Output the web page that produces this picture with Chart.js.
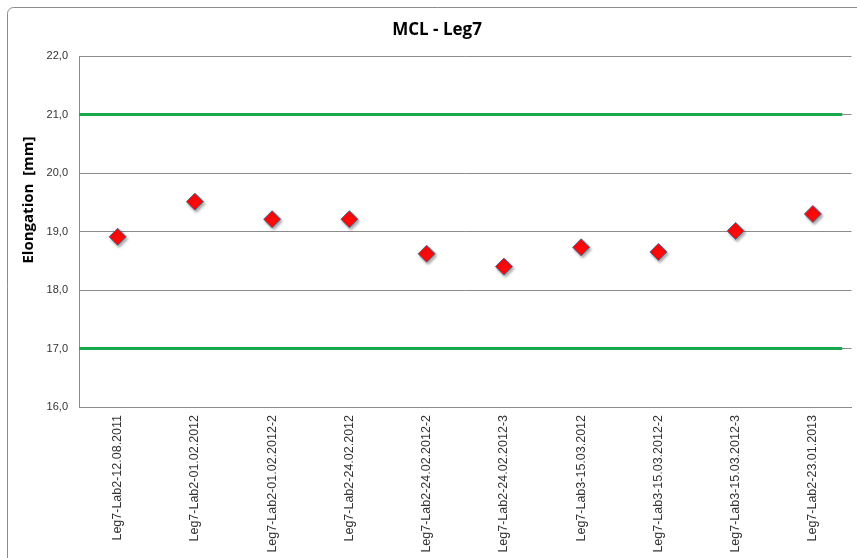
<!DOCTYPE html>
<html>
<head>
<meta charset="utf-8">
<script src="https://cdn.jsdelivr.net/npm/chart.js@4"></script>
<style>
  html, body { margin: 0; padding: 0; background: #fff; overflow: hidden; }
  #wrap { width: 857px; height: 558px; position: relative; overflow: hidden; }
</style>
</head>
<body>
<div id="wrap"><canvas id="chart" width="861" height="558"></canvas></div>
<script>
const samples = [
  'Leg7-Lab2-12.08.2011',
  'Leg7-Lab2-01.02.2012',
  'Leg7-Lab2-01.02.2012-2',
  'Leg7-Lab2-24.02.2012',
  'Leg7-Lab2-24.02.2012-2',
  'Leg7-Lab2-24.02.2012-3',
  'Leg7-Lab3-15.03.2012',
  'Leg7-Lab3-15.03.2012-2',
  'Leg7-Lab3-15.03.2012-3',
  'Leg7-Lab2-23.01.2013'
];
const elongation = [18.91, 19.51, 19.21, 19.21, 18.62, 18.40, 18.73, 18.65, 19.01, 19.30];
const upperLimit = 21;
const lowerLimit = 17;
const yTicks = [16, 17, 18, 19, 20, 21, 22];

// limit lines run across the plot on a hidden linear axis (category index units)
const limitStart = -0.5, limitEnd = 9.38;

const frame = {
  id: 'frame',
  beforeDraw(chart) {
    const c = chart.ctx;
    c.save();
    c.strokeStyle = '#8c8c8c';
    c.lineWidth = 1;
    c.beginPath();
    c.roundRect(7.5, 7.5, 870, 570, 6);
    c.stroke();
    c.restore();
  },
  afterDraw(chart) {
    const c = chart.ctx;
    c.save();
    c.fillStyle = '#000';
    c.textAlign = 'center';
    c.textBaseline = 'middle';
    c.font = 'bold 17px "Open Sans", sans-serif';
    c.fillText('MCL - Leg7', 437, 30);
    c.translate(29, 200);
    c.rotate(-Math.PI / 2);
    c.font = 'bold 15px "Open Sans", sans-serif';
    c.fillText('Elongation  [mm]', 0, 0);
    c.restore();
  },
  beforeDatasetDraw(chart, args) {
    if (args.index === 0) {
      const c = chart.ctx;
      c.save();
      c.shadowColor = 'rgba(0,0,0,0.35)';
      c.shadowBlur = 3;
      c.shadowOffsetX = 1.5;
      c.shadowOffsetY = 2;
    }
  },
  afterDatasetDraw(chart, args) {
    if (args.index === 0) chart.ctx.restore();
  }
};

new Chart(document.getElementById('chart'), {
  type: 'line',
  data: {
    labels: samples,
    datasets: [
      {
        data: elongation,
        showLine: false,
        pointStyle: 'rectRot',
        pointRadius: 8.5,
        pointHoverRadius: 8.5,
        pointBackgroundColor: '#ff0a0a',
        pointBorderColor: '#4a6790',
        pointBorderWidth: 1,
        order: 0
      },
      {
        xAxisID: 'x2',
        data: [{ x: limitStart, y: upperLimit }, { x: limitEnd, y: upperLimit }],
        borderColor: '#18a84e',
        borderWidth: 3,
        pointRadius: 0,
        order: 1
      },
      {
        xAxisID: 'x2',
        data: [{ x: limitStart, y: lowerLimit }, { x: limitEnd, y: lowerLimit }],
        borderColor: '#18a84e',
        borderWidth: 3,
        pointRadius: 0,
        order: 1
      }
    ]
  },
  options: {
    responsive: false,
    animation: false,
    layout: { padding: { top: 56, right: 2, left: 0, bottom: 0 } },
    plugins: { legend: { display: false }, title: { display: false }, tooltip: { enabled: false } },
    scales: {
      x: {
        offset: true,
        grid: { display: false, drawTicks: false },
        border: { color: '#8c8c8c' },
        ticks: {
          minRotation: 90, maxRotation: 90, autoSkip: false, padding: 8,
          color: '#333', font: { family: '"Liberation Sans", sans-serif', size: 12.5 }
        },
        afterFit(scale) {
          scale.height = 151;
          scale.paddingLeft = 0;
          scale.paddingRight = 0;
        }
      },
      x2: { type: 'linear', display: false, min: -0.5, max: 9.5 },
      y: {
        min: yTicks[0], max: yTicks[yTicks.length - 1],
        afterBuildTicks(scale) { scale.ticks = yTicks.map(v => ({ value: v })); },
        grid: { color: '#8c8c8c', drawTicks: false },
        border: { color: '#8c8c8c' },
        ticks: {
          padding: 11, color: '#333',
          font: { family: '"Liberation Sans", sans-serif', size: 11 },
          callback: v => v.toFixed(1).replace('.', ',')
        },
        afterFit(scale) { scale.width = 79; }
      }
    }
  },
  plugins: [frame]
});
</script>
</body>
</html>
